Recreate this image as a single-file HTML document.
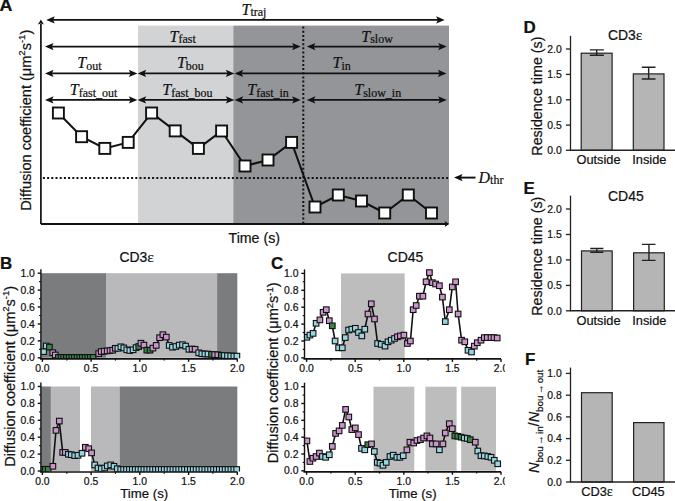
<!DOCTYPE html>
<html><head><meta charset="utf-8"><style>
html,body{margin:0;padding:0;background:#fff;width:675px;height:501px;overflow:hidden}
svg{display:block}
text{stroke:#111;stroke-width:0.22px}
</style></head><body>
<svg width="675" height="501" viewBox="0 0 675 501">
<rect width="675" height="501" fill="#fff"/>
<rect x="138" y="25.6" width="95.30000000000001" height="198.4" fill="#d1d3d5"/>
<rect x="233.3" y="25.6" width="215.7" height="198.4" fill="#939598"/>
<line x1="303.3" y1="26.6" x2="303.3" y2="224.0" stroke="#111" stroke-width="2" stroke-dasharray="2 2.15"/>
<line x1="42.9" y1="177.9" x2="449" y2="177.9" stroke="#111" stroke-width="2" stroke-dasharray="2 2.2"/>
<line x1="40.9" y1="224.0" x2="40.9" y2="24" stroke="#111" stroke-width="1.7"/>
<path d="M37.9,24.6 L40.9,19.6 L43.9,24.6 L40.9,23.6Z" fill="#111"/>
<line x1="40.9" y1="224.0" x2="446" y2="224.0" stroke="#111" stroke-width="1.8"/>
<path d="M444.6,221.0 L449.3,224.0 L444.6,227.0 L445.6,224.0Z" fill="#111"/>
<line x1="51.2" y1="19.9" x2="439.7" y2="19.9" stroke="#111" stroke-width="1.9"/><path d="M46.2,19.9 L54.800000000000004,16.2 L53.0,19.9 L54.800000000000004,23.599999999999998Z" fill="#111"/><path d="M444.7,19.9 L436.09999999999997,16.2 L437.9,19.9 L436.09999999999997,23.599999999999998Z" fill="#111"/>
<line x1="50" y1="46.6" x2="295.7" y2="46.6" stroke="#111" stroke-width="1.9"/><path d="M45,46.6 L53.6,42.9 L51.8,46.6 L53.6,50.300000000000004Z" fill="#111"/><path d="M300.7,46.6 L292.09999999999997,42.9 L293.9,46.6 L292.09999999999997,50.300000000000004Z" fill="#111"/>
<line x1="311.8" y1="46.6" x2="441.8" y2="46.6" stroke="#111" stroke-width="1.9"/><path d="M306.8,46.6 L315.40000000000003,42.9 L313.6,46.6 L315.40000000000003,50.300000000000004Z" fill="#111"/><path d="M446.8,46.6 L438.2,42.9 L440.0,46.6 L438.2,50.300000000000004Z" fill="#111"/>
<line x1="50" y1="73.4" x2="132.4" y2="73.4" stroke="#111" stroke-width="1.9"/><path d="M45,73.4 L53.6,69.7 L51.8,73.4 L53.6,77.10000000000001Z" fill="#111"/><path d="M137.4,73.4 L128.8,69.7 L130.6,73.4 L128.8,77.10000000000001Z" fill="#111"/>
<line x1="142.6" y1="73.4" x2="229.4" y2="73.4" stroke="#111" stroke-width="1.9"/><path d="M137.6,73.4 L146.2,69.7 L144.4,73.4 L146.2,77.10000000000001Z" fill="#111"/><path d="M234.4,73.4 L225.8,69.7 L227.6,73.4 L225.8,77.10000000000001Z" fill="#111"/>
<line x1="239.6" y1="73.4" x2="441.5" y2="73.4" stroke="#111" stroke-width="1.9"/><path d="M234.6,73.4 L243.2,69.7 L241.4,73.4 L243.2,77.10000000000001Z" fill="#111"/><path d="M446.5,73.4 L437.9,69.7 L439.7,73.4 L437.9,77.10000000000001Z" fill="#111"/>
<line x1="50" y1="99.9" x2="132.4" y2="99.9" stroke="#111" stroke-width="1.9"/><path d="M45,99.9 L53.6,96.2 L51.8,99.9 L53.6,103.60000000000001Z" fill="#111"/><path d="M137.4,99.9 L128.8,96.2 L130.6,99.9 L128.8,103.60000000000001Z" fill="#111"/>
<line x1="142.6" y1="99.9" x2="229.4" y2="99.9" stroke="#111" stroke-width="1.9"/><path d="M137.6,99.9 L146.2,96.2 L144.4,99.9 L146.2,103.60000000000001Z" fill="#111"/><path d="M234.4,99.9 L225.8,96.2 L227.6,99.9 L225.8,103.60000000000001Z" fill="#111"/>
<line x1="239.6" y1="99.9" x2="295.7" y2="99.9" stroke="#111" stroke-width="1.9"/><path d="M234.6,99.9 L243.2,96.2 L241.4,99.9 L243.2,103.60000000000001Z" fill="#111"/><path d="M300.7,99.9 L292.09999999999997,96.2 L293.9,99.9 L292.09999999999997,103.60000000000001Z" fill="#111"/>
<line x1="311.8" y1="99.9" x2="441.8" y2="99.9" stroke="#111" stroke-width="1.9"/><path d="M306.8,99.9 L315.40000000000003,96.2 L313.6,99.9 L315.40000000000003,103.60000000000001Z" fill="#111"/><path d="M446.8,99.9 L438.2,96.2 L440.0,99.9 L438.2,103.60000000000001Z" fill="#111"/>
<text x="241.5" y="14.7" font-family="'Liberation Serif', serif" font-size="16" font-style="italic" fill="#111">T<tspan font-style="normal" font-size="12" dy="1.7">traj</tspan></text>
<text x="169.5" y="41.5" font-family="'Liberation Serif', serif" font-size="16" font-style="italic" fill="#111">T<tspan font-style="normal" font-size="12" dy="1.7">fast</tspan></text>
<text x="361.3" y="41.6" font-family="'Liberation Serif', serif" font-size="16" font-style="italic" fill="#111">T<tspan font-style="normal" font-size="12" dy="1.7">slow</tspan></text>
<text x="77.3" y="68.3" font-family="'Liberation Serif', serif" font-size="16" font-style="italic" fill="#111">T<tspan font-style="normal" font-size="12" dy="1.7">out</tspan></text>
<text x="176.9" y="68.2" font-family="'Liberation Serif', serif" font-size="16" font-style="italic" fill="#111">T<tspan font-style="normal" font-size="12" dy="1.7">bou</tspan></text>
<text x="332.6" y="68.2" font-family="'Liberation Serif', serif" font-size="16" font-style="italic" fill="#111">T<tspan font-style="normal" font-size="12" dy="1.7">in</tspan></text>
<text x="69.8" y="95.2" font-family="'Liberation Serif', serif" font-size="16" font-style="italic" fill="#111">T<tspan font-style="normal" font-size="12" dy="1.7">fast_out</tspan></text>
<text x="162.3" y="95" font-family="'Liberation Serif', serif" font-size="16" font-style="italic" fill="#111">T<tspan font-style="normal" font-size="12" dy="1.7">fast_bou</tspan></text>
<text x="247.3" y="95.3" font-family="'Liberation Serif', serif" font-size="16" font-style="italic" fill="#111">T<tspan font-style="normal" font-size="12" dy="1.7">fast_in</tspan></text>
<text x="354.3" y="95.3" font-family="'Liberation Serif', serif" font-size="16" font-style="italic" fill="#111">T<tspan font-style="normal" font-size="12" dy="1.7">slow_in</tspan></text>
<polyline fill="none" stroke="#111" stroke-width="2" points="58.4,113 81.6,136.7 104.8,148.4 128.2,142.4 151.6,113 175.2,130.9 198.4,148.4 221.6,131 245,166 268,160 291.6,142.4 315,207 338.3,195 361.5,201 384.7,213 408.3,195 431.5,213"/>
<rect x="52.9" y="107.5" width="11" height="11" fill="#fff" stroke="#111" stroke-width="1.9"/>
<rect x="76.1" y="131.2" width="11" height="11" fill="#fff" stroke="#111" stroke-width="1.9"/>
<rect x="99.3" y="142.9" width="11" height="11" fill="#fff" stroke="#111" stroke-width="1.9"/>
<rect x="122.69999999999999" y="136.9" width="11" height="11" fill="#fff" stroke="#111" stroke-width="1.9"/>
<rect x="146.1" y="107.5" width="11" height="11" fill="#fff" stroke="#111" stroke-width="1.9"/>
<rect x="169.7" y="125.4" width="11" height="11" fill="#fff" stroke="#111" stroke-width="1.9"/>
<rect x="192.9" y="142.9" width="11" height="11" fill="#fff" stroke="#111" stroke-width="1.9"/>
<rect x="216.1" y="125.5" width="11" height="11" fill="#fff" stroke="#111" stroke-width="1.9"/>
<rect x="239.5" y="160.5" width="11" height="11" fill="#fff" stroke="#111" stroke-width="1.9"/>
<rect x="262.5" y="154.5" width="11" height="11" fill="#fff" stroke="#111" stroke-width="1.9"/>
<rect x="286.1" y="136.9" width="11" height="11" fill="#fff" stroke="#111" stroke-width="1.9"/>
<rect x="309.5" y="201.5" width="11" height="11" fill="#fff" stroke="#111" stroke-width="1.9"/>
<rect x="332.8" y="189.5" width="11" height="11" fill="#fff" stroke="#111" stroke-width="1.9"/>
<rect x="356.0" y="195.5" width="11" height="11" fill="#fff" stroke="#111" stroke-width="1.9"/>
<rect x="379.2" y="207.5" width="11" height="11" fill="#fff" stroke="#111" stroke-width="1.9"/>
<rect x="402.8" y="189.5" width="11" height="11" fill="#fff" stroke="#111" stroke-width="1.9"/>
<rect x="426.0" y="207.5" width="11" height="11" fill="#fff" stroke="#111" stroke-width="1.9"/>
<line x1="459" y1="177.6" x2="475.5" y2="177.6" stroke="#111" stroke-width="1.9"/>
<path d="M454,177.6 L462.6,173.9 L460.8,177.6 L462.6,181.3Z" fill="#111"/>
<text x="478.5" y="183.4" font-family="'Liberation Serif', serif" font-size="16" font-style="italic" fill="#111">D<tspan font-style="normal" font-size="12" dy="1">thr</tspan></text>
<text transform="translate(-0.5,10.5) scale(1.05,1)" font-weight="bold" font-family="'Liberation Sans', sans-serif" font-size="17" fill="#111">A</text>
<text transform="translate(30.8,120.2) rotate(-90)" text-anchor="middle" font-family="'Liberation Sans', sans-serif" font-size="14.55" fill="#111">Diffusion coefficient (μm<tspan font-size="9.5" dy="-5.5">2</tspan><tspan dy="5.5">s</tspan><tspan font-size="9.5" dy="-5.5">-1</tspan><tspan dy="5.5">)</tspan></text>
<text x="228.5" y="243.1" font-family="'Liberation Sans', sans-serif" font-size="14.2" fill="#111">Time (s)</text>
<rect x="40.9" y="273.2" width="65.1" height="84.60000000000002" fill="#7b7c7e"/>
<rect x="106" y="273.2" width="111.1" height="84.60000000000002" fill="#b9b9bb"/>
<rect x="217.1" y="273.2" width="20.200000000000017" height="84.60000000000002" fill="#7b7c7e"/>
<clipPath id="cp1"><rect x="40.9" y="263.2" width="202.4" height="95.10000000000002"/></clipPath><g clip-path="url(#cp1)">
<polyline fill="none" stroke="#111" stroke-width="1.6" points="43.6,351.6 46.3,346.0 49.4,347.1 52.8,352.7 55.3,355.0 58.4,357.4 61.1,357.4 63.7,357.4 66.4,357.4 69.1,357.4 71.8,357.4 74.4,357.4 77.1,357.4 79.8,357.4 82.4,357.4 85.1,357.4 87.8,357.4 90.4,357.4 93.1,357.4 98.7,353.6 101.2,351.6 104.2,351.2 107.2,350.9 110.1,350.5 112.7,350.2 115.3,348.3 117.9,348.3 120.9,346.8 123.8,347.9 126.8,349.8 129.8,350.5 133.1,349.8 136.1,347.6 138.7,346.5 140.9,343.2 143.9,345.1 146.8,350.2 150.0,350.2 152.9,348.1 156.2,345.4 159.6,337.7 162.9,334.7 166.3,337.1 169.2,345.4 172.5,347.2 175.9,346.5 179.2,345.1 182.5,344.7 185.6,346.1 188.9,349.3 192.0,349.0 195.1,349.3 198.7,352.8 201.8,353.7 204.9,354.0 208.0,354.0 211.5,354.4 214.7,354.6 217.8,354.8 221.3,355.3 224.4,355.5 227.5,355.7 230.7,355.9 233.8,356.1 236.9,356.1"/>
<rect x="40.8" y="348.8" width="5.6" height="5.6" fill="#97d6e0" stroke="#111" stroke-width="1.1"/>
<rect x="43.5" y="343.2" width="5.6" height="5.6" fill="#97d6e0" stroke="#111" stroke-width="1.1"/>
<rect x="46.6" y="344.3" width="5.6" height="5.6" fill="#3b8748" stroke="#111" stroke-width="1.1"/>
<rect x="50.0" y="349.9" width="5.6" height="5.6" fill="#cb95cb" stroke="#111" stroke-width="1.1"/>
<rect x="52.5" y="352.2" width="5.6" height="5.6" fill="#cb95cb" stroke="#111" stroke-width="1.1"/>
<rect x="55.6" y="354.6" width="5.6" height="5.6" fill="#3b8748" stroke="#111" stroke-width="1.1"/>
<rect x="58.3" y="354.6" width="5.6" height="5.6" fill="#3b8748" stroke="#111" stroke-width="1.1"/>
<rect x="60.9" y="354.6" width="5.6" height="5.6" fill="#3b8748" stroke="#111" stroke-width="1.1"/>
<rect x="63.6" y="354.6" width="5.6" height="5.6" fill="#3b8748" stroke="#111" stroke-width="1.1"/>
<rect x="66.3" y="354.6" width="5.6" height="5.6" fill="#3b8748" stroke="#111" stroke-width="1.1"/>
<rect x="69.0" y="354.6" width="5.6" height="5.6" fill="#3b8748" stroke="#111" stroke-width="1.1"/>
<rect x="71.6" y="354.6" width="5.6" height="5.6" fill="#3b8748" stroke="#111" stroke-width="1.1"/>
<rect x="74.3" y="354.6" width="5.6" height="5.6" fill="#3b8748" stroke="#111" stroke-width="1.1"/>
<rect x="77.0" y="354.6" width="5.6" height="5.6" fill="#3b8748" stroke="#111" stroke-width="1.1"/>
<rect x="79.6" y="354.6" width="5.6" height="5.6" fill="#3b8748" stroke="#111" stroke-width="1.1"/>
<rect x="82.3" y="354.6" width="5.6" height="5.6" fill="#3b8748" stroke="#111" stroke-width="1.1"/>
<rect x="85.0" y="354.6" width="5.6" height="5.6" fill="#3b8748" stroke="#111" stroke-width="1.1"/>
<rect x="87.6" y="354.6" width="5.6" height="5.6" fill="#3b8748" stroke="#111" stroke-width="1.1"/>
<rect x="90.3" y="354.6" width="5.6" height="5.6" fill="#3b8748" stroke="#111" stroke-width="1.1"/>
<rect x="95.9" y="350.8" width="5.6" height="5.6" fill="#cb95cb" stroke="#111" stroke-width="1.1"/>
<rect x="98.4" y="348.8" width="5.6" height="5.6" fill="#cb95cb" stroke="#111" stroke-width="1.1"/>
<rect x="101.4" y="348.4" width="5.6" height="5.6" fill="#cb95cb" stroke="#111" stroke-width="1.1"/>
<rect x="104.4" y="348.1" width="5.6" height="5.6" fill="#cb95cb" stroke="#111" stroke-width="1.1"/>
<rect x="107.3" y="347.7" width="5.6" height="5.6" fill="#cb95cb" stroke="#111" stroke-width="1.1"/>
<rect x="109.9" y="347.4" width="5.6" height="5.6" fill="#cb95cb" stroke="#111" stroke-width="1.1"/>
<rect x="112.5" y="345.5" width="5.6" height="5.6" fill="#cb95cb" stroke="#111" stroke-width="1.1"/>
<rect x="115.1" y="345.5" width="5.6" height="5.6" fill="#97d6e0" stroke="#111" stroke-width="1.1"/>
<rect x="118.1" y="344.0" width="5.6" height="5.6" fill="#97d6e0" stroke="#111" stroke-width="1.1"/>
<rect x="121.0" y="345.1" width="5.6" height="5.6" fill="#97d6e0" stroke="#111" stroke-width="1.1"/>
<rect x="124.0" y="347.0" width="5.6" height="5.6" fill="#97d6e0" stroke="#111" stroke-width="1.1"/>
<rect x="127.0" y="347.7" width="5.6" height="5.6" fill="#97d6e0" stroke="#111" stroke-width="1.1"/>
<rect x="130.3" y="347.0" width="5.6" height="5.6" fill="#97d6e0" stroke="#111" stroke-width="1.1"/>
<rect x="133.3" y="344.8" width="5.6" height="5.6" fill="#97d6e0" stroke="#111" stroke-width="1.1"/>
<rect x="135.9" y="343.7" width="5.6" height="5.6" fill="#3b8748" stroke="#111" stroke-width="1.1"/>
<rect x="138.1" y="340.4" width="5.6" height="5.6" fill="#cb95cb" stroke="#111" stroke-width="1.1"/>
<rect x="141.1" y="342.3" width="5.6" height="5.6" fill="#cb95cb" stroke="#111" stroke-width="1.1"/>
<rect x="144.0" y="347.4" width="5.6" height="5.6" fill="#3b8748" stroke="#111" stroke-width="1.1"/>
<rect x="147.2" y="347.4" width="5.6" height="5.6" fill="#3b8748" stroke="#111" stroke-width="1.1"/>
<rect x="150.1" y="345.3" width="5.6" height="5.6" fill="#cb95cb" stroke="#111" stroke-width="1.1"/>
<rect x="153.4" y="342.6" width="5.6" height="5.6" fill="#cb95cb" stroke="#111" stroke-width="1.1"/>
<rect x="156.8" y="334.9" width="5.6" height="5.6" fill="#cb95cb" stroke="#111" stroke-width="1.1"/>
<rect x="160.1" y="331.9" width="5.6" height="5.6" fill="#cb95cb" stroke="#111" stroke-width="1.1"/>
<rect x="163.5" y="334.3" width="5.6" height="5.6" fill="#cb95cb" stroke="#111" stroke-width="1.1"/>
<rect x="166.4" y="342.6" width="5.6" height="5.6" fill="#97d6e0" stroke="#111" stroke-width="1.1"/>
<rect x="169.7" y="344.4" width="5.6" height="5.6" fill="#97d6e0" stroke="#111" stroke-width="1.1"/>
<rect x="173.1" y="343.7" width="5.6" height="5.6" fill="#97d6e0" stroke="#111" stroke-width="1.1"/>
<rect x="176.4" y="342.3" width="5.6" height="5.6" fill="#97d6e0" stroke="#111" stroke-width="1.1"/>
<rect x="179.7" y="341.9" width="5.6" height="5.6" fill="#97d6e0" stroke="#111" stroke-width="1.1"/>
<rect x="182.8" y="343.3" width="5.6" height="5.6" fill="#97d6e0" stroke="#111" stroke-width="1.1"/>
<rect x="186.1" y="346.5" width="5.6" height="5.6" fill="#97d6e0" stroke="#111" stroke-width="1.1"/>
<rect x="189.2" y="346.2" width="5.6" height="5.6" fill="#cb95cb" stroke="#111" stroke-width="1.1"/>
<rect x="192.3" y="346.5" width="5.6" height="5.6" fill="#cb95cb" stroke="#111" stroke-width="1.1"/>
<rect x="195.9" y="350.0" width="5.6" height="5.6" fill="#97d6e0" stroke="#111" stroke-width="1.1"/>
<rect x="199.0" y="350.9" width="5.6" height="5.6" fill="#97d6e0" stroke="#111" stroke-width="1.1"/>
<rect x="202.1" y="351.2" width="5.6" height="5.6" fill="#97d6e0" stroke="#111" stroke-width="1.1"/>
<rect x="205.2" y="351.2" width="5.6" height="5.6" fill="#97d6e0" stroke="#111" stroke-width="1.1"/>
<rect x="208.7" y="351.6" width="5.6" height="5.6" fill="#3b8748" stroke="#111" stroke-width="1.1"/>
<rect x="211.9" y="351.8" width="5.6" height="5.6" fill="#cb95cb" stroke="#111" stroke-width="1.1"/>
<rect x="215.0" y="352.0" width="5.6" height="5.6" fill="#cb95cb" stroke="#111" stroke-width="1.1"/>
<rect x="218.5" y="352.5" width="5.6" height="5.6" fill="#3b8748" stroke="#111" stroke-width="1.1"/>
<rect x="221.6" y="352.7" width="5.6" height="5.6" fill="#97d6e0" stroke="#111" stroke-width="1.1"/>
<rect x="224.7" y="352.9" width="5.6" height="5.6" fill="#97d6e0" stroke="#111" stroke-width="1.1"/>
<rect x="227.9" y="353.1" width="5.6" height="5.6" fill="#97d6e0" stroke="#111" stroke-width="1.1"/>
<rect x="231.0" y="353.3" width="5.6" height="5.6" fill="#97d6e0" stroke="#111" stroke-width="1.1"/>
<rect x="234.1" y="353.3" width="5.6" height="5.6" fill="#97d6e0" stroke="#111" stroke-width="1.1"/>
</g>
<line x1="40.9" y1="358.8" x2="40.9" y2="269.2" stroke="#111" stroke-width="1.4"/>
<line x1="39.9" y1="358.8" x2="237.3" y2="358.8" stroke="#111" stroke-width="1.7"/>
<line x1="37.699999999999996" y1="357.8" x2="40.9" y2="357.8" stroke="#111" stroke-width="1.4"/>
<text x="34.9" y="361.4" text-anchor="end" font-family="'Liberation Sans', sans-serif" font-size="10.4" fill="#111">0.0</text>
<line x1="39.1" y1="349.3" x2="40.9" y2="349.3" stroke="#111" stroke-width="1.2"/>
<line x1="37.699999999999996" y1="340.9" x2="40.9" y2="340.9" stroke="#111" stroke-width="1.4"/>
<text x="34.9" y="344.5" text-anchor="end" font-family="'Liberation Sans', sans-serif" font-size="10.4" fill="#111">0.2</text>
<line x1="39.1" y1="332.4" x2="40.9" y2="332.4" stroke="#111" stroke-width="1.2"/>
<line x1="37.699999999999996" y1="324.0" x2="40.9" y2="324.0" stroke="#111" stroke-width="1.4"/>
<text x="34.9" y="327.6" text-anchor="end" font-family="'Liberation Sans', sans-serif" font-size="10.4" fill="#111">0.4</text>
<line x1="39.1" y1="315.5" x2="40.9" y2="315.5" stroke="#111" stroke-width="1.2"/>
<line x1="37.699999999999996" y1="307.0" x2="40.9" y2="307.0" stroke="#111" stroke-width="1.4"/>
<text x="34.9" y="310.6" text-anchor="end" font-family="'Liberation Sans', sans-serif" font-size="10.4" fill="#111">0.6</text>
<line x1="39.1" y1="298.6" x2="40.9" y2="298.6" stroke="#111" stroke-width="1.2"/>
<line x1="37.699999999999996" y1="290.1" x2="40.9" y2="290.1" stroke="#111" stroke-width="1.4"/>
<text x="34.9" y="293.7" text-anchor="end" font-family="'Liberation Sans', sans-serif" font-size="10.4" fill="#111">0.8</text>
<line x1="39.1" y1="281.7" x2="40.9" y2="281.7" stroke="#111" stroke-width="1.2"/>
<line x1="37.699999999999996" y1="273.2" x2="40.9" y2="273.2" stroke="#111" stroke-width="1.4"/>
<text x="34.9" y="276.8" text-anchor="end" font-family="'Liberation Sans', sans-serif" font-size="10.4" fill="#111">1.0</text>
<line x1="42.4" y1="358.8" x2="42.4" y2="361.8" stroke="#111" stroke-width="1.4"/>
<text x="42.4" y="371.8" text-anchor="middle" font-family="'Liberation Sans', sans-serif" font-size="10.4" fill="#111">0.0</text>
<line x1="66.8" y1="358.8" x2="66.8" y2="360.6" stroke="#111" stroke-width="1.2"/>
<line x1="91.1" y1="358.8" x2="91.1" y2="361.8" stroke="#111" stroke-width="1.4"/>
<text x="91.1" y="371.8" text-anchor="middle" font-family="'Liberation Sans', sans-serif" font-size="10.4" fill="#111">0.5</text>
<line x1="115.5" y1="358.8" x2="115.5" y2="360.6" stroke="#111" stroke-width="1.2"/>
<line x1="139.8" y1="358.8" x2="139.8" y2="361.8" stroke="#111" stroke-width="1.4"/>
<text x="139.8" y="371.8" text-anchor="middle" font-family="'Liberation Sans', sans-serif" font-size="10.4" fill="#111">1.0</text>
<line x1="164.2" y1="358.8" x2="164.2" y2="360.6" stroke="#111" stroke-width="1.2"/>
<line x1="188.6" y1="358.8" x2="188.6" y2="361.8" stroke="#111" stroke-width="1.4"/>
<text x="188.6" y="371.8" text-anchor="middle" font-family="'Liberation Sans', sans-serif" font-size="10.4" fill="#111">1.5</text>
<line x1="212.9" y1="358.8" x2="212.9" y2="360.6" stroke="#111" stroke-width="1.2"/>
<line x1="237.3" y1="358.8" x2="237.3" y2="361.8" stroke="#111" stroke-width="1.4"/>
<text x="237.3" y="371.8" text-anchor="middle" font-family="'Liberation Sans', sans-serif" font-size="10.4" fill="#111">2.0</text>
<rect x="40.9" y="386.5" width="10.0" height="84.5" fill="#7b7c7e"/>
<rect x="50.9" y="386.5" width="29.1" height="84.5" fill="#b9b9bb"/>
<rect x="91" y="386.5" width="28.599999999999994" height="84.5" fill="#b9b9bb"/>
<rect x="119.6" y="386.5" width="117.70000000000002" height="84.5" fill="#7b7c7e"/>
<clipPath id="cp2"><rect x="40.9" y="376.5" width="202.4" height="95.0"/></clipPath><g clip-path="url(#cp2)">
<polyline fill="none" stroke="#111" stroke-width="1.6" points="42.5,469.3 45.3,469.3 48.2,469.3 52.9,466.3 56.0,430.4 59.3,421.1 62.7,452.4 65.3,452.4 68.4,454.3 71.3,454.7 74.7,455.6 78.0,455.3 82.0,453.3 85.3,447.3 88.7,448.7 91.6,452.9 94.7,464.9 98.0,468.0 101.3,468.7 104.7,468.0 107.3,465.9 110.7,464.9 114.0,466.3 117.3,468.7 120.7,469.5 123.6,469.5 126.5,469.5 129.4,469.5 132.3,469.5 135.2,469.5 138.1,469.5 141.0,469.5 143.9,469.5 146.8,469.5 149.7,469.5 152.6,469.5 155.5,469.5 158.4,469.5 161.3,469.5 164.2,469.5 167.1,469.5 170.0,469.5 172.9,469.5 175.8,469.5 178.7,469.5 181.6,469.5 184.5,469.5 187.4,469.5 190.3,469.5 193.2,469.5 196.1,469.5 199.0,469.5 201.9,469.5 204.8,469.5 207.7,469.5 210.6,469.5 213.5,469.5 216.4,469.5 219.3,469.5 222.2,469.5 225.1,469.5 228.0,469.5 230.9,469.5 233.8,469.5 236.7,469.5"/>
<rect x="39.7" y="466.5" width="5.6" height="5.6" fill="#3b8748" stroke="#111" stroke-width="1.1"/>
<rect x="42.5" y="466.5" width="5.6" height="5.6" fill="#3b8748" stroke="#111" stroke-width="1.1"/>
<rect x="45.4" y="466.5" width="5.6" height="5.6" fill="#3b8748" stroke="#111" stroke-width="1.1"/>
<rect x="50.1" y="463.5" width="5.6" height="5.6" fill="#cb95cb" stroke="#111" stroke-width="1.1"/>
<rect x="53.2" y="427.6" width="5.6" height="5.6" fill="#cb95cb" stroke="#111" stroke-width="1.1"/>
<rect x="56.5" y="418.3" width="5.6" height="5.6" fill="#cb95cb" stroke="#111" stroke-width="1.1"/>
<rect x="59.9" y="449.6" width="5.6" height="5.6" fill="#cb95cb" stroke="#111" stroke-width="1.1"/>
<rect x="62.5" y="449.6" width="5.6" height="5.6" fill="#cb95cb" stroke="#111" stroke-width="1.1"/>
<rect x="65.6" y="451.5" width="5.6" height="5.6" fill="#97d6e0" stroke="#111" stroke-width="1.1"/>
<rect x="68.5" y="451.9" width="5.6" height="5.6" fill="#97d6e0" stroke="#111" stroke-width="1.1"/>
<rect x="71.9" y="452.8" width="5.6" height="5.6" fill="#97d6e0" stroke="#111" stroke-width="1.1"/>
<rect x="75.2" y="452.5" width="5.6" height="5.6" fill="#97d6e0" stroke="#111" stroke-width="1.1"/>
<rect x="79.2" y="450.5" width="5.6" height="5.6" fill="#97d6e0" stroke="#111" stroke-width="1.1"/>
<rect x="82.5" y="444.5" width="5.6" height="5.6" fill="#cb95cb" stroke="#111" stroke-width="1.1"/>
<rect x="85.9" y="445.9" width="5.6" height="5.6" fill="#cb95cb" stroke="#111" stroke-width="1.1"/>
<rect x="88.8" y="450.1" width="5.6" height="5.6" fill="#cb95cb" stroke="#111" stroke-width="1.1"/>
<rect x="91.9" y="462.1" width="5.6" height="5.6" fill="#97d6e0" stroke="#111" stroke-width="1.1"/>
<rect x="95.2" y="465.2" width="5.6" height="5.6" fill="#97d6e0" stroke="#111" stroke-width="1.1"/>
<rect x="98.5" y="465.9" width="5.6" height="5.6" fill="#97d6e0" stroke="#111" stroke-width="1.1"/>
<rect x="101.9" y="465.2" width="5.6" height="5.6" fill="#97d6e0" stroke="#111" stroke-width="1.1"/>
<rect x="104.5" y="463.1" width="5.6" height="5.6" fill="#97d6e0" stroke="#111" stroke-width="1.1"/>
<rect x="107.9" y="462.1" width="5.6" height="5.6" fill="#97d6e0" stroke="#111" stroke-width="1.1"/>
<rect x="111.2" y="463.5" width="5.6" height="5.6" fill="#97d6e0" stroke="#111" stroke-width="1.1"/>
<rect x="114.5" y="465.9" width="5.6" height="5.6" fill="#97d6e0" stroke="#111" stroke-width="1.1"/>
<rect x="117.9" y="466.7" width="5.6" height="5.6" fill="#97d6e0" stroke="#111" stroke-width="1.1"/>
<rect x="120.8" y="466.7" width="5.6" height="5.6" fill="#97d6e0" stroke="#111" stroke-width="1.1"/>
<rect x="123.7" y="466.7" width="5.6" height="5.6" fill="#97d6e0" stroke="#111" stroke-width="1.1"/>
<rect x="126.6" y="466.7" width="5.6" height="5.6" fill="#97d6e0" stroke="#111" stroke-width="1.1"/>
<rect x="129.5" y="466.7" width="5.6" height="5.6" fill="#97d6e0" stroke="#111" stroke-width="1.1"/>
<rect x="132.4" y="466.7" width="5.6" height="5.6" fill="#97d6e0" stroke="#111" stroke-width="1.1"/>
<rect x="135.3" y="466.7" width="5.6" height="5.6" fill="#97d6e0" stroke="#111" stroke-width="1.1"/>
<rect x="138.2" y="466.7" width="5.6" height="5.6" fill="#97d6e0" stroke="#111" stroke-width="1.1"/>
<rect x="141.1" y="466.7" width="5.6" height="5.6" fill="#97d6e0" stroke="#111" stroke-width="1.1"/>
<rect x="144.0" y="466.7" width="5.6" height="5.6" fill="#97d6e0" stroke="#111" stroke-width="1.1"/>
<rect x="146.9" y="466.7" width="5.6" height="5.6" fill="#97d6e0" stroke="#111" stroke-width="1.1"/>
<rect x="149.8" y="466.7" width="5.6" height="5.6" fill="#97d6e0" stroke="#111" stroke-width="1.1"/>
<rect x="152.7" y="466.7" width="5.6" height="5.6" fill="#97d6e0" stroke="#111" stroke-width="1.1"/>
<rect x="155.6" y="466.7" width="5.6" height="5.6" fill="#97d6e0" stroke="#111" stroke-width="1.1"/>
<rect x="158.5" y="466.7" width="5.6" height="5.6" fill="#97d6e0" stroke="#111" stroke-width="1.1"/>
<rect x="161.4" y="466.7" width="5.6" height="5.6" fill="#97d6e0" stroke="#111" stroke-width="1.1"/>
<rect x="164.3" y="466.7" width="5.6" height="5.6" fill="#97d6e0" stroke="#111" stroke-width="1.1"/>
<rect x="167.2" y="466.7" width="5.6" height="5.6" fill="#97d6e0" stroke="#111" stroke-width="1.1"/>
<rect x="170.1" y="466.7" width="5.6" height="5.6" fill="#97d6e0" stroke="#111" stroke-width="1.1"/>
<rect x="173.0" y="466.7" width="5.6" height="5.6" fill="#97d6e0" stroke="#111" stroke-width="1.1"/>
<rect x="175.9" y="466.7" width="5.6" height="5.6" fill="#97d6e0" stroke="#111" stroke-width="1.1"/>
<rect x="178.8" y="466.7" width="5.6" height="5.6" fill="#97d6e0" stroke="#111" stroke-width="1.1"/>
<rect x="181.7" y="466.7" width="5.6" height="5.6" fill="#97d6e0" stroke="#111" stroke-width="1.1"/>
<rect x="184.6" y="466.7" width="5.6" height="5.6" fill="#97d6e0" stroke="#111" stroke-width="1.1"/>
<rect x="187.5" y="466.7" width="5.6" height="5.6" fill="#97d6e0" stroke="#111" stroke-width="1.1"/>
<rect x="190.4" y="466.7" width="5.6" height="5.6" fill="#97d6e0" stroke="#111" stroke-width="1.1"/>
<rect x="193.3" y="466.7" width="5.6" height="5.6" fill="#97d6e0" stroke="#111" stroke-width="1.1"/>
<rect x="196.2" y="466.7" width="5.6" height="5.6" fill="#97d6e0" stroke="#111" stroke-width="1.1"/>
<rect x="199.1" y="466.7" width="5.6" height="5.6" fill="#97d6e0" stroke="#111" stroke-width="1.1"/>
<rect x="202.0" y="466.7" width="5.6" height="5.6" fill="#97d6e0" stroke="#111" stroke-width="1.1"/>
<rect x="204.9" y="466.7" width="5.6" height="5.6" fill="#97d6e0" stroke="#111" stroke-width="1.1"/>
<rect x="207.8" y="466.7" width="5.6" height="5.6" fill="#97d6e0" stroke="#111" stroke-width="1.1"/>
<rect x="210.7" y="466.7" width="5.6" height="5.6" fill="#97d6e0" stroke="#111" stroke-width="1.1"/>
<rect x="213.6" y="466.7" width="5.6" height="5.6" fill="#97d6e0" stroke="#111" stroke-width="1.1"/>
<rect x="216.5" y="466.7" width="5.6" height="5.6" fill="#97d6e0" stroke="#111" stroke-width="1.1"/>
<rect x="219.4" y="466.7" width="5.6" height="5.6" fill="#97d6e0" stroke="#111" stroke-width="1.1"/>
<rect x="222.3" y="466.7" width="5.6" height="5.6" fill="#97d6e0" stroke="#111" stroke-width="1.1"/>
<rect x="225.2" y="466.7" width="5.6" height="5.6" fill="#97d6e0" stroke="#111" stroke-width="1.1"/>
<rect x="228.1" y="466.7" width="5.6" height="5.6" fill="#97d6e0" stroke="#111" stroke-width="1.1"/>
<rect x="231.0" y="466.7" width="5.6" height="5.6" fill="#97d6e0" stroke="#111" stroke-width="1.1"/>
<rect x="233.9" y="466.7" width="5.6" height="5.6" fill="#97d6e0" stroke="#111" stroke-width="1.1"/>
</g>
<line x1="40.9" y1="472" x2="40.9" y2="382.5" stroke="#111" stroke-width="1.4"/>
<line x1="39.9" y1="472" x2="237.3" y2="472" stroke="#111" stroke-width="1.7"/>
<line x1="37.699999999999996" y1="471.0" x2="40.9" y2="471.0" stroke="#111" stroke-width="1.4"/>
<text x="34.9" y="474.6" text-anchor="end" font-family="'Liberation Sans', sans-serif" font-size="10.4" fill="#111">0.0</text>
<line x1="39.1" y1="462.6" x2="40.9" y2="462.6" stroke="#111" stroke-width="1.2"/>
<line x1="37.699999999999996" y1="454.1" x2="40.9" y2="454.1" stroke="#111" stroke-width="1.4"/>
<text x="34.9" y="457.7" text-anchor="end" font-family="'Liberation Sans', sans-serif" font-size="10.4" fill="#111">0.2</text>
<line x1="39.1" y1="445.6" x2="40.9" y2="445.6" stroke="#111" stroke-width="1.2"/>
<line x1="37.699999999999996" y1="437.2" x2="40.9" y2="437.2" stroke="#111" stroke-width="1.4"/>
<text x="34.9" y="440.8" text-anchor="end" font-family="'Liberation Sans', sans-serif" font-size="10.4" fill="#111">0.4</text>
<line x1="39.1" y1="428.8" x2="40.9" y2="428.8" stroke="#111" stroke-width="1.2"/>
<line x1="37.699999999999996" y1="420.3" x2="40.9" y2="420.3" stroke="#111" stroke-width="1.4"/>
<text x="34.9" y="423.9" text-anchor="end" font-family="'Liberation Sans', sans-serif" font-size="10.4" fill="#111">0.6</text>
<line x1="39.1" y1="411.9" x2="40.9" y2="411.9" stroke="#111" stroke-width="1.2"/>
<line x1="37.699999999999996" y1="403.4" x2="40.9" y2="403.4" stroke="#111" stroke-width="1.4"/>
<text x="34.9" y="407.0" text-anchor="end" font-family="'Liberation Sans', sans-serif" font-size="10.4" fill="#111">0.8</text>
<line x1="39.1" y1="394.9" x2="40.9" y2="394.9" stroke="#111" stroke-width="1.2"/>
<line x1="37.699999999999996" y1="386.5" x2="40.9" y2="386.5" stroke="#111" stroke-width="1.4"/>
<text x="34.9" y="390.1" text-anchor="end" font-family="'Liberation Sans', sans-serif" font-size="10.4" fill="#111">1.0</text>
<line x1="42.4" y1="472" x2="42.4" y2="475" stroke="#111" stroke-width="1.4"/>
<text x="42.4" y="485" text-anchor="middle" font-family="'Liberation Sans', sans-serif" font-size="10.4" fill="#111">0.0</text>
<line x1="66.8" y1="472" x2="66.8" y2="473.8" stroke="#111" stroke-width="1.2"/>
<line x1="91.1" y1="472" x2="91.1" y2="475" stroke="#111" stroke-width="1.4"/>
<text x="91.1" y="485" text-anchor="middle" font-family="'Liberation Sans', sans-serif" font-size="10.4" fill="#111">0.5</text>
<line x1="115.5" y1="472" x2="115.5" y2="473.8" stroke="#111" stroke-width="1.2"/>
<line x1="139.8" y1="472" x2="139.8" y2="475" stroke="#111" stroke-width="1.4"/>
<text x="139.8" y="485" text-anchor="middle" font-family="'Liberation Sans', sans-serif" font-size="10.4" fill="#111">1.0</text>
<line x1="164.2" y1="472" x2="164.2" y2="473.8" stroke="#111" stroke-width="1.2"/>
<line x1="188.6" y1="472" x2="188.6" y2="475" stroke="#111" stroke-width="1.4"/>
<text x="188.6" y="485" text-anchor="middle" font-family="'Liberation Sans', sans-serif" font-size="10.4" fill="#111">1.5</text>
<line x1="212.9" y1="472" x2="212.9" y2="473.8" stroke="#111" stroke-width="1.2"/>
<line x1="237.3" y1="472" x2="237.3" y2="475" stroke="#111" stroke-width="1.4"/>
<text x="237.3" y="485" text-anchor="middle" font-family="'Liberation Sans', sans-serif" font-size="10.4" fill="#111">2.0</text>
<rect x="341" y="273.4" width="63.69999999999999" height="84.5" fill="#bdbdbd"/>
<clipPath id="cp3"><rect x="304.5" y="263.4" width="202.5" height="95.0"/></clipPath><g clip-path="url(#cp3)">
<polyline fill="none" stroke="#111" stroke-width="1.6" points="306.9,337.3 309.9,335.1 313.1,333.4 316.1,323.3 319.9,319.9 323.1,312.3 326.3,309.7 329.3,320.7 332.3,325.8 335.1,341.0 338.6,347.8 342.3,347.8 345.3,337.6 348.6,330.0 351.8,329.2 355.3,328.3 358.5,332.5 361.8,335.9 364.8,329.2 368.0,314.0 371.3,303.8 374.5,319.0 377.6,343.5 381.2,344.4 385.0,346.1 388.0,341.8 391.2,340.2 394.5,338.5 397.4,336.8 400.4,335.9 403.9,335.1 407.4,343.5 410.4,341.0 413.2,309.7 416.2,305.5 419.4,296.2 422.9,296.2 426.1,281.8 429.4,272.6 432.4,282.7 435.6,284.0 439.4,285.7 442.4,297.1 445.3,321.6 449.3,309.7 452.3,286.9 455.6,281.8 458.1,314.0 461.6,340.2 464.8,341.8 468.0,350.3 471.5,352.0 474.3,346.1 477.3,342.7 481.0,340.2 484.3,337.6 487.3,337.6 491.0,337.6 494.0,337.6 497.2,338.0"/>
<rect x="304.1" y="334.5" width="5.6" height="5.6" fill="#97d6e0" stroke="#111" stroke-width="1.1"/>
<rect x="307.1" y="332.3" width="5.6" height="5.6" fill="#97d6e0" stroke="#111" stroke-width="1.1"/>
<rect x="310.3" y="330.6" width="5.6" height="5.6" fill="#97d6e0" stroke="#111" stroke-width="1.1"/>
<rect x="313.3" y="320.5" width="5.6" height="5.6" fill="#97d6e0" stroke="#111" stroke-width="1.1"/>
<rect x="317.1" y="317.1" width="5.6" height="5.6" fill="#cb95cb" stroke="#111" stroke-width="1.1"/>
<rect x="320.3" y="309.5" width="5.6" height="5.6" fill="#cb95cb" stroke="#111" stroke-width="1.1"/>
<rect x="323.5" y="306.9" width="5.6" height="5.6" fill="#cb95cb" stroke="#111" stroke-width="1.1"/>
<rect x="326.5" y="317.9" width="5.6" height="5.6" fill="#cb95cb" stroke="#111" stroke-width="1.1"/>
<rect x="329.5" y="323.0" width="5.6" height="5.6" fill="#3b8748" stroke="#111" stroke-width="1.1"/>
<rect x="332.3" y="338.2" width="5.6" height="5.6" fill="#97d6e0" stroke="#111" stroke-width="1.1"/>
<rect x="335.8" y="345.0" width="5.6" height="5.6" fill="#97d6e0" stroke="#111" stroke-width="1.1"/>
<rect x="339.5" y="345.0" width="5.6" height="5.6" fill="#97d6e0" stroke="#111" stroke-width="1.1"/>
<rect x="342.5" y="334.8" width="5.6" height="5.6" fill="#97d6e0" stroke="#111" stroke-width="1.1"/>
<rect x="345.8" y="327.2" width="5.6" height="5.6" fill="#97d6e0" stroke="#111" stroke-width="1.1"/>
<rect x="349.0" y="326.4" width="5.6" height="5.6" fill="#97d6e0" stroke="#111" stroke-width="1.1"/>
<rect x="352.5" y="325.5" width="5.6" height="5.6" fill="#97d6e0" stroke="#111" stroke-width="1.1"/>
<rect x="355.7" y="329.7" width="5.6" height="5.6" fill="#97d6e0" stroke="#111" stroke-width="1.1"/>
<rect x="359.0" y="333.1" width="5.6" height="5.6" fill="#97d6e0" stroke="#111" stroke-width="1.1"/>
<rect x="362.0" y="326.4" width="5.6" height="5.6" fill="#97d6e0" stroke="#111" stroke-width="1.1"/>
<rect x="365.2" y="311.2" width="5.6" height="5.6" fill="#cb95cb" stroke="#111" stroke-width="1.1"/>
<rect x="368.5" y="301.0" width="5.6" height="5.6" fill="#cb95cb" stroke="#111" stroke-width="1.1"/>
<rect x="371.7" y="316.2" width="5.6" height="5.6" fill="#cb95cb" stroke="#111" stroke-width="1.1"/>
<rect x="374.8" y="340.7" width="5.6" height="5.6" fill="#97d6e0" stroke="#111" stroke-width="1.1"/>
<rect x="378.4" y="341.6" width="5.6" height="5.6" fill="#97d6e0" stroke="#111" stroke-width="1.1"/>
<rect x="382.2" y="343.3" width="5.6" height="5.6" fill="#97d6e0" stroke="#111" stroke-width="1.1"/>
<rect x="385.2" y="339.0" width="5.6" height="5.6" fill="#97d6e0" stroke="#111" stroke-width="1.1"/>
<rect x="388.4" y="337.4" width="5.6" height="5.6" fill="#97d6e0" stroke="#111" stroke-width="1.1"/>
<rect x="391.7" y="335.7" width="5.6" height="5.6" fill="#97d6e0" stroke="#111" stroke-width="1.1"/>
<rect x="394.6" y="334.0" width="5.6" height="5.6" fill="#cb95cb" stroke="#111" stroke-width="1.1"/>
<rect x="397.6" y="333.1" width="5.6" height="5.6" fill="#cb95cb" stroke="#111" stroke-width="1.1"/>
<rect x="401.1" y="332.3" width="5.6" height="5.6" fill="#cb95cb" stroke="#111" stroke-width="1.1"/>
<rect x="404.6" y="340.7" width="5.6" height="5.6" fill="#cb95cb" stroke="#111" stroke-width="1.1"/>
<rect x="407.6" y="338.2" width="5.6" height="5.6" fill="#cb95cb" stroke="#111" stroke-width="1.1"/>
<rect x="410.4" y="306.9" width="5.6" height="5.6" fill="#cb95cb" stroke="#111" stroke-width="1.1"/>
<rect x="413.4" y="302.7" width="5.6" height="5.6" fill="#cb95cb" stroke="#111" stroke-width="1.1"/>
<rect x="416.6" y="293.4" width="5.6" height="5.6" fill="#cb95cb" stroke="#111" stroke-width="1.1"/>
<rect x="420.1" y="293.4" width="5.6" height="5.6" fill="#cb95cb" stroke="#111" stroke-width="1.1"/>
<rect x="423.3" y="279.0" width="5.6" height="5.6" fill="#cb95cb" stroke="#111" stroke-width="1.1"/>
<rect x="426.6" y="269.8" width="5.6" height="5.6" fill="#cb95cb" stroke="#111" stroke-width="1.1"/>
<rect x="429.6" y="279.9" width="5.6" height="5.6" fill="#cb95cb" stroke="#111" stroke-width="1.1"/>
<rect x="432.8" y="281.2" width="5.6" height="5.6" fill="#cb95cb" stroke="#111" stroke-width="1.1"/>
<rect x="436.6" y="282.9" width="5.6" height="5.6" fill="#cb95cb" stroke="#111" stroke-width="1.1"/>
<rect x="439.6" y="294.3" width="5.6" height="5.6" fill="#cb95cb" stroke="#111" stroke-width="1.1"/>
<rect x="442.5" y="318.8" width="5.6" height="5.6" fill="#97d6e0" stroke="#111" stroke-width="1.1"/>
<rect x="446.5" y="306.9" width="5.6" height="5.6" fill="#cb95cb" stroke="#111" stroke-width="1.1"/>
<rect x="449.5" y="284.1" width="5.6" height="5.6" fill="#cb95cb" stroke="#111" stroke-width="1.1"/>
<rect x="452.8" y="279.0" width="5.6" height="5.6" fill="#cb95cb" stroke="#111" stroke-width="1.1"/>
<rect x="455.3" y="311.2" width="5.6" height="5.6" fill="#cb95cb" stroke="#111" stroke-width="1.1"/>
<rect x="458.8" y="337.4" width="5.6" height="5.6" fill="#cb95cb" stroke="#111" stroke-width="1.1"/>
<rect x="462.0" y="339.0" width="5.6" height="5.6" fill="#cb95cb" stroke="#111" stroke-width="1.1"/>
<rect x="465.2" y="347.5" width="5.6" height="5.6" fill="#97d6e0" stroke="#111" stroke-width="1.1"/>
<rect x="468.7" y="349.2" width="5.6" height="5.6" fill="#97d6e0" stroke="#111" stroke-width="1.1"/>
<rect x="471.5" y="343.3" width="5.6" height="5.6" fill="#cb95cb" stroke="#111" stroke-width="1.1"/>
<rect x="474.5" y="339.9" width="5.6" height="5.6" fill="#cb95cb" stroke="#111" stroke-width="1.1"/>
<rect x="478.2" y="337.4" width="5.6" height="5.6" fill="#cb95cb" stroke="#111" stroke-width="1.1"/>
<rect x="481.5" y="334.8" width="5.6" height="5.6" fill="#cb95cb" stroke="#111" stroke-width="1.1"/>
<rect x="484.5" y="334.8" width="5.6" height="5.6" fill="#cb95cb" stroke="#111" stroke-width="1.1"/>
<rect x="488.2" y="334.8" width="5.6" height="5.6" fill="#cb95cb" stroke="#111" stroke-width="1.1"/>
<rect x="491.2" y="334.8" width="5.6" height="5.6" fill="#cb95cb" stroke="#111" stroke-width="1.1"/>
<rect x="494.4" y="335.2" width="5.6" height="5.6" fill="#cb95cb" stroke="#111" stroke-width="1.1"/>
</g>
<line x1="304.5" y1="358.9" x2="304.5" y2="269.4" stroke="#111" stroke-width="1.4"/>
<line x1="303.5" y1="358.9" x2="501" y2="358.9" stroke="#111" stroke-width="1.7"/>
<line x1="301.3" y1="357.9" x2="304.5" y2="357.9" stroke="#111" stroke-width="1.4"/>
<text x="298.5" y="361.5" text-anchor="end" font-family="'Liberation Sans', sans-serif" font-size="10.4" fill="#111">0.0</text>
<line x1="302.7" y1="349.4" x2="304.5" y2="349.4" stroke="#111" stroke-width="1.2"/>
<line x1="301.3" y1="341.0" x2="304.5" y2="341.0" stroke="#111" stroke-width="1.4"/>
<text x="298.5" y="344.6" text-anchor="end" font-family="'Liberation Sans', sans-serif" font-size="10.4" fill="#111">0.2</text>
<line x1="302.7" y1="332.5" x2="304.5" y2="332.5" stroke="#111" stroke-width="1.2"/>
<line x1="301.3" y1="324.1" x2="304.5" y2="324.1" stroke="#111" stroke-width="1.4"/>
<text x="298.5" y="327.7" text-anchor="end" font-family="'Liberation Sans', sans-serif" font-size="10.4" fill="#111">0.4</text>
<line x1="302.7" y1="315.6" x2="304.5" y2="315.6" stroke="#111" stroke-width="1.2"/>
<line x1="301.3" y1="307.2" x2="304.5" y2="307.2" stroke="#111" stroke-width="1.4"/>
<text x="298.5" y="310.8" text-anchor="end" font-family="'Liberation Sans', sans-serif" font-size="10.4" fill="#111">0.6</text>
<line x1="302.7" y1="298.8" x2="304.5" y2="298.8" stroke="#111" stroke-width="1.2"/>
<line x1="301.3" y1="290.3" x2="304.5" y2="290.3" stroke="#111" stroke-width="1.4"/>
<text x="298.5" y="293.9" text-anchor="end" font-family="'Liberation Sans', sans-serif" font-size="10.4" fill="#111">0.8</text>
<line x1="302.7" y1="281.8" x2="304.5" y2="281.8" stroke="#111" stroke-width="1.2"/>
<line x1="301.3" y1="273.4" x2="304.5" y2="273.4" stroke="#111" stroke-width="1.4"/>
<text x="298.5" y="277.0" text-anchor="end" font-family="'Liberation Sans', sans-serif" font-size="10.4" fill="#111">1.0</text>
<line x1="306.6" y1="358.9" x2="306.6" y2="361.9" stroke="#111" stroke-width="1.4"/>
<text x="306.6" y="371.9" text-anchor="middle" font-family="'Liberation Sans', sans-serif" font-size="10.4" fill="#111">0.0</text>
<line x1="330.9" y1="358.9" x2="330.9" y2="360.7" stroke="#111" stroke-width="1.2"/>
<line x1="355.2" y1="358.9" x2="355.2" y2="361.9" stroke="#111" stroke-width="1.4"/>
<text x="355.2" y="371.9" text-anchor="middle" font-family="'Liberation Sans', sans-serif" font-size="10.4" fill="#111">0.5</text>
<line x1="379.5" y1="358.9" x2="379.5" y2="360.7" stroke="#111" stroke-width="1.2"/>
<line x1="403.8" y1="358.9" x2="403.8" y2="361.9" stroke="#111" stroke-width="1.4"/>
<text x="403.8" y="371.9" text-anchor="middle" font-family="'Liberation Sans', sans-serif" font-size="10.4" fill="#111">1.0</text>
<line x1="428.1" y1="358.9" x2="428.1" y2="360.7" stroke="#111" stroke-width="1.2"/>
<line x1="452.4" y1="358.9" x2="452.4" y2="361.9" stroke="#111" stroke-width="1.4"/>
<text x="452.4" y="371.9" text-anchor="middle" font-family="'Liberation Sans', sans-serif" font-size="10.4" fill="#111">1.5</text>
<line x1="476.7" y1="358.9" x2="476.7" y2="360.7" stroke="#111" stroke-width="1.2"/>
<line x1="501.0" y1="358.9" x2="501.0" y2="361.9" stroke="#111" stroke-width="1.4"/>
<text x="501.0" y="371.9" text-anchor="middle" font-family="'Liberation Sans', sans-serif" font-size="10.4" fill="#111">2.0</text>
<rect x="373.5" y="386.7" width="40.80000000000001" height="84.10000000000002" fill="#bdbdbd"/>
<rect x="425.4" y="386.7" width="31.200000000000045" height="84.10000000000002" fill="#bdbdbd"/>
<rect x="461.2" y="386.7" width="34.80000000000001" height="84.10000000000002" fill="#bdbdbd"/>
<clipPath id="cp4"><rect x="304.5" y="376.7" width="202.5" height="94.60000000000002"/></clipPath><g clip-path="url(#cp4)">
<polyline fill="none" stroke="#111" stroke-width="1.6" points="306.9,440.9 309.9,461.5 312.9,458.2 316.1,456.5 319.4,453.1 322.4,456.5 325.6,457.3 329.3,454.8 332.3,446.4 335.6,433.4 339.1,430.9 342.3,425.4 345.6,409.4 348.8,417.0 351.8,429.6 355.3,427.9 358.5,434.6 361.5,448.4 364.8,449.8 367.8,444.7 371.5,443.9 374.3,451.5 377.3,462.4 380.0,463.2 383.0,465.3 386.2,462.4 390.0,456.5 393.2,455.2 396.9,457.3 399.9,457.3 403.2,455.7 406.9,449.8 409.9,442.2 413.7,443.0 416.9,440.5 420.4,439.7 423.6,438.0 426.9,435.9 429.9,438.0 432.4,443.9 436.1,443.9 439.4,449.8 442.9,443.9 445.3,433.0 449.3,423.7 452.3,428.8 454.8,435.9 457.8,436.3 461.1,437.2 464.3,438.0 467.3,438.4 470.3,439.7 475.3,442.2 477.8,451.0 481.0,455.7 484.3,455.9 487.8,456.5 491.0,457.3 494.3,460.3 497.7,463.8"/>
<rect x="304.1" y="438.1" width="5.6" height="5.6" fill="#cb95cb" stroke="#111" stroke-width="1.1"/>
<rect x="307.1" y="458.7" width="5.6" height="5.6" fill="#cb95cb" stroke="#111" stroke-width="1.1"/>
<rect x="310.1" y="455.4" width="5.6" height="5.6" fill="#cb95cb" stroke="#111" stroke-width="1.1"/>
<rect x="313.3" y="453.7" width="5.6" height="5.6" fill="#cb95cb" stroke="#111" stroke-width="1.1"/>
<rect x="316.6" y="450.3" width="5.6" height="5.6" fill="#cb95cb" stroke="#111" stroke-width="1.1"/>
<rect x="319.6" y="453.7" width="5.6" height="5.6" fill="#97d6e0" stroke="#111" stroke-width="1.1"/>
<rect x="322.8" y="454.5" width="5.6" height="5.6" fill="#97d6e0" stroke="#111" stroke-width="1.1"/>
<rect x="326.5" y="452.0" width="5.6" height="5.6" fill="#97d6e0" stroke="#111" stroke-width="1.1"/>
<rect x="329.5" y="443.6" width="5.6" height="5.6" fill="#cb95cb" stroke="#111" stroke-width="1.1"/>
<rect x="332.8" y="430.6" width="5.6" height="5.6" fill="#cb95cb" stroke="#111" stroke-width="1.1"/>
<rect x="336.3" y="428.1" width="5.6" height="5.6" fill="#cb95cb" stroke="#111" stroke-width="1.1"/>
<rect x="339.5" y="422.6" width="5.6" height="5.6" fill="#cb95cb" stroke="#111" stroke-width="1.1"/>
<rect x="342.8" y="406.6" width="5.6" height="5.6" fill="#cb95cb" stroke="#111" stroke-width="1.1"/>
<rect x="346.0" y="414.2" width="5.6" height="5.6" fill="#cb95cb" stroke="#111" stroke-width="1.1"/>
<rect x="349.0" y="426.8" width="5.6" height="5.6" fill="#cb95cb" stroke="#111" stroke-width="1.1"/>
<rect x="352.5" y="425.1" width="5.6" height="5.6" fill="#cb95cb" stroke="#111" stroke-width="1.1"/>
<rect x="355.7" y="431.8" width="5.6" height="5.6" fill="#cb95cb" stroke="#111" stroke-width="1.1"/>
<rect x="358.7" y="445.6" width="5.6" height="5.6" fill="#97d6e0" stroke="#111" stroke-width="1.1"/>
<rect x="362.0" y="447.0" width="5.6" height="5.6" fill="#97d6e0" stroke="#111" stroke-width="1.1"/>
<rect x="365.0" y="441.9" width="5.6" height="5.6" fill="#3b8748" stroke="#111" stroke-width="1.1"/>
<rect x="368.7" y="441.1" width="5.6" height="5.6" fill="#cb95cb" stroke="#111" stroke-width="1.1"/>
<rect x="371.5" y="448.7" width="5.6" height="5.6" fill="#97d6e0" stroke="#111" stroke-width="1.1"/>
<rect x="374.5" y="459.6" width="5.6" height="5.6" fill="#97d6e0" stroke="#111" stroke-width="1.1"/>
<rect x="377.2" y="460.4" width="5.6" height="5.6" fill="#97d6e0" stroke="#111" stroke-width="1.1"/>
<rect x="380.2" y="462.5" width="5.6" height="5.6" fill="#97d6e0" stroke="#111" stroke-width="1.1"/>
<rect x="383.4" y="459.6" width="5.6" height="5.6" fill="#97d6e0" stroke="#111" stroke-width="1.1"/>
<rect x="387.2" y="453.7" width="5.6" height="5.6" fill="#97d6e0" stroke="#111" stroke-width="1.1"/>
<rect x="390.4" y="452.4" width="5.6" height="5.6" fill="#97d6e0" stroke="#111" stroke-width="1.1"/>
<rect x="394.1" y="454.5" width="5.6" height="5.6" fill="#97d6e0" stroke="#111" stroke-width="1.1"/>
<rect x="397.1" y="454.5" width="5.6" height="5.6" fill="#97d6e0" stroke="#111" stroke-width="1.1"/>
<rect x="400.4" y="452.9" width="5.6" height="5.6" fill="#97d6e0" stroke="#111" stroke-width="1.1"/>
<rect x="404.1" y="447.0" width="5.6" height="5.6" fill="#cb95cb" stroke="#111" stroke-width="1.1"/>
<rect x="407.1" y="439.4" width="5.6" height="5.6" fill="#cb95cb" stroke="#111" stroke-width="1.1"/>
<rect x="410.9" y="440.2" width="5.6" height="5.6" fill="#cb95cb" stroke="#111" stroke-width="1.1"/>
<rect x="414.1" y="437.7" width="5.6" height="5.6" fill="#cb95cb" stroke="#111" stroke-width="1.1"/>
<rect x="417.6" y="436.9" width="5.6" height="5.6" fill="#cb95cb" stroke="#111" stroke-width="1.1"/>
<rect x="420.8" y="435.2" width="5.6" height="5.6" fill="#cb95cb" stroke="#111" stroke-width="1.1"/>
<rect x="424.1" y="433.1" width="5.6" height="5.6" fill="#cb95cb" stroke="#111" stroke-width="1.1"/>
<rect x="427.1" y="435.2" width="5.6" height="5.6" fill="#cb95cb" stroke="#111" stroke-width="1.1"/>
<rect x="429.6" y="441.1" width="5.6" height="5.6" fill="#cb95cb" stroke="#111" stroke-width="1.1"/>
<rect x="433.3" y="441.1" width="5.6" height="5.6" fill="#cb95cb" stroke="#111" stroke-width="1.1"/>
<rect x="436.6" y="447.0" width="5.6" height="5.6" fill="#97d6e0" stroke="#111" stroke-width="1.1"/>
<rect x="440.1" y="441.1" width="5.6" height="5.6" fill="#cb95cb" stroke="#111" stroke-width="1.1"/>
<rect x="442.5" y="430.2" width="5.6" height="5.6" fill="#cb95cb" stroke="#111" stroke-width="1.1"/>
<rect x="446.5" y="420.9" width="5.6" height="5.6" fill="#cb95cb" stroke="#111" stroke-width="1.1"/>
<rect x="449.5" y="425.9" width="5.6" height="5.6" fill="#cb95cb" stroke="#111" stroke-width="1.1"/>
<rect x="452.0" y="433.1" width="5.6" height="5.6" fill="#3b8748" stroke="#111" stroke-width="1.1"/>
<rect x="455.0" y="433.5" width="5.6" height="5.6" fill="#3b8748" stroke="#111" stroke-width="1.1"/>
<rect x="458.3" y="434.4" width="5.6" height="5.6" fill="#3b8748" stroke="#111" stroke-width="1.1"/>
<rect x="461.5" y="435.2" width="5.6" height="5.6" fill="#97d6e0" stroke="#111" stroke-width="1.1"/>
<rect x="464.5" y="435.6" width="5.6" height="5.6" fill="#97d6e0" stroke="#111" stroke-width="1.1"/>
<rect x="467.5" y="436.9" width="5.6" height="5.6" fill="#3b8748" stroke="#111" stroke-width="1.1"/>
<rect x="472.5" y="439.4" width="5.6" height="5.6" fill="#cb95cb" stroke="#111" stroke-width="1.1"/>
<rect x="475.0" y="448.2" width="5.6" height="5.6" fill="#97d6e0" stroke="#111" stroke-width="1.1"/>
<rect x="478.2" y="452.9" width="5.6" height="5.6" fill="#97d6e0" stroke="#111" stroke-width="1.1"/>
<rect x="481.5" y="453.1" width="5.6" height="5.6" fill="#97d6e0" stroke="#111" stroke-width="1.1"/>
<rect x="485.0" y="453.7" width="5.6" height="5.6" fill="#97d6e0" stroke="#111" stroke-width="1.1"/>
<rect x="488.2" y="454.5" width="5.6" height="5.6" fill="#97d6e0" stroke="#111" stroke-width="1.1"/>
<rect x="491.5" y="457.5" width="5.6" height="5.6" fill="#97d6e0" stroke="#111" stroke-width="1.1"/>
<rect x="494.9" y="461.0" width="5.6" height="5.6" fill="#97d6e0" stroke="#111" stroke-width="1.1"/>
</g>
<line x1="304.5" y1="471.8" x2="304.5" y2="382.7" stroke="#111" stroke-width="1.4"/>
<line x1="303.5" y1="471.8" x2="501" y2="471.8" stroke="#111" stroke-width="1.7"/>
<line x1="301.3" y1="470.8" x2="304.5" y2="470.8" stroke="#111" stroke-width="1.4"/>
<text x="298.5" y="474.4" text-anchor="end" font-family="'Liberation Sans', sans-serif" font-size="10.4" fill="#111">0.0</text>
<line x1="302.7" y1="462.4" x2="304.5" y2="462.4" stroke="#111" stroke-width="1.2"/>
<line x1="301.3" y1="454.0" x2="304.5" y2="454.0" stroke="#111" stroke-width="1.4"/>
<text x="298.5" y="457.6" text-anchor="end" font-family="'Liberation Sans', sans-serif" font-size="10.4" fill="#111">0.2</text>
<line x1="302.7" y1="445.6" x2="304.5" y2="445.6" stroke="#111" stroke-width="1.2"/>
<line x1="301.3" y1="437.2" x2="304.5" y2="437.2" stroke="#111" stroke-width="1.4"/>
<text x="298.5" y="440.8" text-anchor="end" font-family="'Liberation Sans', sans-serif" font-size="10.4" fill="#111">0.4</text>
<line x1="302.7" y1="428.8" x2="304.5" y2="428.8" stroke="#111" stroke-width="1.2"/>
<line x1="301.3" y1="420.3" x2="304.5" y2="420.3" stroke="#111" stroke-width="1.4"/>
<text x="298.5" y="423.9" text-anchor="end" font-family="'Liberation Sans', sans-serif" font-size="10.4" fill="#111">0.6</text>
<line x1="302.7" y1="411.9" x2="304.5" y2="411.9" stroke="#111" stroke-width="1.2"/>
<line x1="301.3" y1="403.5" x2="304.5" y2="403.5" stroke="#111" stroke-width="1.4"/>
<text x="298.5" y="407.1" text-anchor="end" font-family="'Liberation Sans', sans-serif" font-size="10.4" fill="#111">0.8</text>
<line x1="302.7" y1="395.1" x2="304.5" y2="395.1" stroke="#111" stroke-width="1.2"/>
<line x1="301.3" y1="386.7" x2="304.5" y2="386.7" stroke="#111" stroke-width="1.4"/>
<text x="298.5" y="390.3" text-anchor="end" font-family="'Liberation Sans', sans-serif" font-size="10.4" fill="#111">1.0</text>
<line x1="306.6" y1="471.8" x2="306.6" y2="474.8" stroke="#111" stroke-width="1.4"/>
<text x="306.6" y="484.8" text-anchor="middle" font-family="'Liberation Sans', sans-serif" font-size="10.4" fill="#111">0.0</text>
<line x1="330.9" y1="471.8" x2="330.9" y2="473.6" stroke="#111" stroke-width="1.2"/>
<line x1="355.2" y1="471.8" x2="355.2" y2="474.8" stroke="#111" stroke-width="1.4"/>
<text x="355.2" y="484.8" text-anchor="middle" font-family="'Liberation Sans', sans-serif" font-size="10.4" fill="#111">0.5</text>
<line x1="379.5" y1="471.8" x2="379.5" y2="473.6" stroke="#111" stroke-width="1.2"/>
<line x1="403.8" y1="471.8" x2="403.8" y2="474.8" stroke="#111" stroke-width="1.4"/>
<text x="403.8" y="484.8" text-anchor="middle" font-family="'Liberation Sans', sans-serif" font-size="10.4" fill="#111">1.0</text>
<line x1="428.1" y1="471.8" x2="428.1" y2="473.6" stroke="#111" stroke-width="1.2"/>
<line x1="452.4" y1="471.8" x2="452.4" y2="474.8" stroke="#111" stroke-width="1.4"/>
<text x="452.4" y="484.8" text-anchor="middle" font-family="'Liberation Sans', sans-serif" font-size="10.4" fill="#111">1.5</text>
<line x1="476.7" y1="471.8" x2="476.7" y2="473.6" stroke="#111" stroke-width="1.2"/>
<line x1="501.0" y1="471.8" x2="501.0" y2="474.8" stroke="#111" stroke-width="1.4"/>
<text x="501.0" y="484.8" text-anchor="middle" font-family="'Liberation Sans', sans-serif" font-size="10.4" fill="#111">2.0</text>
<text transform="translate(0,268.8) scale(1.06,1)" font-weight="bold" font-family="'Liberation Sans', sans-serif" font-size="16" fill="#111">B</text>
<text transform="translate(271,268.5) scale(1.06,1)" font-weight="bold" font-family="'Liberation Sans', sans-serif" font-size="16" fill="#111">C</text>
<text x="119.5" y="261.9" font-family="'Liberation Sans', sans-serif" font-size="13.9" fill="#111">CD3<tspan font-family="'Liberation Serif', serif" font-size="15.5">ε</tspan></text>
<text x="387.6" y="261.7" font-family="'Liberation Sans', sans-serif" font-size="14" fill="#111">CD45</text>
<text transform="translate(14.8,376.3) rotate(-90)" text-anchor="middle" font-family="'Liberation Sans', sans-serif" font-size="14.55" fill="#111">Diffusion coefficient (μm<tspan font-size="9.5" dy="-5.5">2</tspan><tspan dy="5.5">s</tspan><tspan font-size="9.5" dy="-5.5">-1</tspan><tspan dy="5.5">)</tspan></text>
<text transform="translate(278,372.8) rotate(-90)" text-anchor="middle" font-family="'Liberation Sans', sans-serif" font-size="14.55" fill="#111">Diffusion coefficient (μm<tspan font-size="9.5" dy="-5.5">2</tspan><tspan dy="5.5">s</tspan><tspan font-size="9.5" dy="-5.5">-1</tspan><tspan dy="5.5">)</tspan></text>
<text x="120.3" y="497.6" font-family="'Liberation Sans', sans-serif" font-size="13.2" fill="#111">Time (s)</text>
<text x="388.7" y="497.6" font-family="'Liberation Sans', sans-serif" font-size="13.2" fill="#111">Time (s)</text>
<rect x="505" y="0" width="170" height="501" fill="#fff"/>
<text transform="translate(523.5,33.4) scale(1.06,1)" font-weight="bold" font-family="'Liberation Sans', sans-serif" font-size="16" fill="#111">D</text>
<text x="608" y="39.6" font-family="'Liberation Sans', sans-serif" font-size="13.9" fill="#111">CD3<tspan font-family="'Liberation Serif', serif" font-size="15.5">ε</tspan></text>
<rect x="581.2" y="53.2" width="30.899999999999977" height="97.10000000000001" fill="#b5b5b5" stroke="#222" stroke-width="1.2"/>
<path d="M596.6500000000001,49.9 V55.2 M589.8,49.9 H603.9 M589.8,55.2 H603.9" stroke="#222" stroke-width="1.4" fill="none"/>
<rect x="633.3" y="73.9" width="30.700000000000045" height="76.4" fill="#b5b5b5" stroke="#222" stroke-width="1.2"/>
<path d="M648.65,67.2 V79 M641.8,67.2 H655.5 M641.8,79 H655.5" stroke="#222" stroke-width="1.4" fill="none"/>
<line x1="570.5" y1="150.3" x2="570.5" y2="35.8" stroke="#222" stroke-width="1.3"/>
<line x1="569.9" y1="150.3" x2="675" y2="150.3" stroke="#222" stroke-width="1.5"/>
<line x1="565.9" y1="150.3" x2="570.5" y2="150.3" stroke="#222" stroke-width="1.3"/>
<text x="561.8" y="154.0" text-anchor="end" font-family="'Liberation Sans', sans-serif" font-size="10.4" fill="#111">0.0</text>
<line x1="565.9" y1="125.1" x2="570.5" y2="125.1" stroke="#222" stroke-width="1.3"/>
<text x="561.8" y="128.8" text-anchor="end" font-family="'Liberation Sans', sans-serif" font-size="10.4" fill="#111">0.5</text>
<line x1="565.9" y1="99.8" x2="570.5" y2="99.8" stroke="#222" stroke-width="1.3"/>
<text x="561.8" y="103.5" text-anchor="end" font-family="'Liberation Sans', sans-serif" font-size="10.4" fill="#111">1.0</text>
<line x1="565.9" y1="74.4" x2="570.5" y2="74.4" stroke="#222" stroke-width="1.3"/>
<text x="561.8" y="78.1" text-anchor="end" font-family="'Liberation Sans', sans-serif" font-size="10.4" fill="#111">1.5</text>
<line x1="565.9" y1="49" x2="570.5" y2="49" stroke="#222" stroke-width="1.3"/>
<text x="561.8" y="52.7" text-anchor="end" font-family="'Liberation Sans', sans-serif" font-size="10.4" fill="#111">2.0</text>
<text x="598.5" y="164.4" text-anchor="middle" font-family="'Liberation Sans', sans-serif" font-size="12.8" fill="#111">Outside</text>
<text x="649.3" y="164.4" text-anchor="middle" font-family="'Liberation Sans', sans-serif" font-size="12.8" fill="#111">Inside</text>
<text transform="translate(541.6,96.1) rotate(-90)" text-anchor="middle" font-family="'Liberation Sans', sans-serif" font-size="14.3" fill="#111">Residence time (s)</text>
<text transform="translate(523.5,193.6) scale(1.06,1)" font-weight="bold" font-family="'Liberation Sans', sans-serif" font-size="16" fill="#111">E</text>
<text x="608" y="200.9" font-family="'Liberation Sans', sans-serif" font-size="14" fill="#111">CD45</text>
<rect x="581.5" y="250.9" width="30.700000000000045" height="59.900000000000006" fill="#b5b5b5" stroke="#222" stroke-width="1.2"/>
<path d="M596.85,248.5 V252.3 M590.2,248.5 H603.4 M590.2,252.3 H603.4" stroke="#222" stroke-width="1.4" fill="none"/>
<rect x="633.6" y="252.8" width="30.699999999999932" height="58.0" fill="#b5b5b5" stroke="#222" stroke-width="1.2"/>
<path d="M648.95,244.4 V260.4 M641.9,244.4 H655.5 M641.9,260.4 H655.5" stroke="#222" stroke-width="1.4" fill="none"/>
<line x1="570.5" y1="310.8" x2="570.5" y2="195.6" stroke="#222" stroke-width="1.3"/>
<line x1="569.9" y1="310.8" x2="675" y2="310.8" stroke="#222" stroke-width="1.5"/>
<line x1="565.9" y1="310.8" x2="570.5" y2="310.8" stroke="#222" stroke-width="1.3"/>
<text x="561.8" y="314.5" text-anchor="end" font-family="'Liberation Sans', sans-serif" font-size="10.4" fill="#111">0.0</text>
<line x1="565.9" y1="285.4" x2="570.5" y2="285.4" stroke="#222" stroke-width="1.3"/>
<text x="561.8" y="289.1" text-anchor="end" font-family="'Liberation Sans', sans-serif" font-size="10.4" fill="#111">0.5</text>
<line x1="565.9" y1="259.9" x2="570.5" y2="259.9" stroke="#222" stroke-width="1.3"/>
<text x="561.8" y="263.6" text-anchor="end" font-family="'Liberation Sans', sans-serif" font-size="10.4" fill="#111">1.0</text>
<line x1="565.9" y1="234.5" x2="570.5" y2="234.5" stroke="#222" stroke-width="1.3"/>
<text x="561.8" y="238.2" text-anchor="end" font-family="'Liberation Sans', sans-serif" font-size="10.4" fill="#111">1.5</text>
<line x1="565.9" y1="209" x2="570.5" y2="209" stroke="#222" stroke-width="1.3"/>
<text x="561.8" y="212.7" text-anchor="end" font-family="'Liberation Sans', sans-serif" font-size="10.4" fill="#111">2.0</text>
<text x="598.5" y="324.6" text-anchor="middle" font-family="'Liberation Sans', sans-serif" font-size="12.8" fill="#111">Outside</text>
<text x="649.3" y="324.6" text-anchor="middle" font-family="'Liberation Sans', sans-serif" font-size="12.8" fill="#111">Inside</text>
<text transform="translate(541.6,256.2) rotate(-90)" text-anchor="middle" font-family="'Liberation Sans', sans-serif" font-size="14.3" fill="#111">Residence time (s)</text>
<text transform="translate(525,365.4) scale(1.06,1)" font-weight="bold" font-family="'Liberation Sans', sans-serif" font-size="16" fill="#111">F</text>
<rect x="581.5" y="392.7" width="30.700000000000045" height="89.30000000000001" fill="#b5b5b5" stroke="#222" stroke-width="1.2"/>
<rect x="633.6" y="422.6" width="30.399999999999977" height="59.39999999999998" fill="#b5b5b5" stroke="#222" stroke-width="1.2"/>
<line x1="570.5" y1="482" x2="570.5" y2="367.6" stroke="#222" stroke-width="1.3"/>
<line x1="569.9" y1="482" x2="675" y2="482" stroke="#222" stroke-width="1.5"/>
<line x1="565.9" y1="482" x2="570.5" y2="482" stroke="#222" stroke-width="1.3"/>
<text x="561.8" y="485.7" text-anchor="end" font-family="'Liberation Sans', sans-serif" font-size="10.4" fill="#111">0.0</text>
<line x1="565.9" y1="460.3" x2="570.5" y2="460.3" stroke="#222" stroke-width="1.3"/>
<text x="561.8" y="464.0" text-anchor="end" font-family="'Liberation Sans', sans-serif" font-size="10.4" fill="#111">0.2</text>
<line x1="565.9" y1="438.6" x2="570.5" y2="438.6" stroke="#222" stroke-width="1.3"/>
<text x="561.8" y="442.3" text-anchor="end" font-family="'Liberation Sans', sans-serif" font-size="10.4" fill="#111">0.4</text>
<line x1="565.9" y1="416.9" x2="570.5" y2="416.9" stroke="#222" stroke-width="1.3"/>
<text x="561.8" y="420.6" text-anchor="end" font-family="'Liberation Sans', sans-serif" font-size="10.4" fill="#111">0.6</text>
<line x1="565.9" y1="395.2" x2="570.5" y2="395.2" stroke="#222" stroke-width="1.3"/>
<text x="561.8" y="398.9" text-anchor="end" font-family="'Liberation Sans', sans-serif" font-size="10.4" fill="#111">0.8</text>
<line x1="565.9" y1="373.4" x2="570.5" y2="373.4" stroke="#222" stroke-width="1.3"/>
<text x="561.8" y="377.1" text-anchor="end" font-family="'Liberation Sans', sans-serif" font-size="10.4" fill="#111">1.0</text>
<text x="597" y="495.8" text-anchor="middle" font-family="'Liberation Sans', sans-serif" font-size="12.8" fill="#111">CD3<tspan font-family="'Liberation Serif', serif" font-size="14">ε</tspan></text>
<text x="648.3" y="495.8" text-anchor="middle" font-family="'Liberation Sans', sans-serif" font-size="12.8" fill="#111">CD45</text>
<text transform="translate(539.2,421.4) rotate(-90)" text-anchor="middle" font-family="'Liberation Sans', sans-serif" font-size="14.5" fill="#111"><tspan font-style="italic">N</tspan><tspan font-size="9.8" dy="3.3">bou<tspan dx="1.2">→</tspan><tspan dx="1.2">in</tspan></tspan><tspan dy="-3.3">/</tspan><tspan font-style="italic">N</tspan><tspan font-size="9.8" dy="3.3">bou<tspan dx="1.2">→</tspan><tspan dx="1.2">out</tspan></tspan></text>
</svg>
</body></html>
